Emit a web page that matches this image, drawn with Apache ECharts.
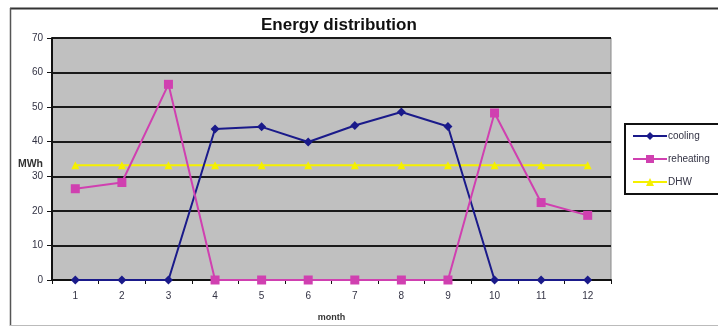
<!DOCTYPE html>
<html>
<head>
<meta charset="utf-8">
<style>
html,body{margin:0;padding:0;background:#fff;}
#c{width:718px;height:327px;}
</style>
<script src="https://cdn.jsdelivr.net/npm/echarts@6/dist/echarts.min.js"></script>
</head>
<body>
<div id="c"></div>
<script>
const months = ['1','2','3','4','5','6','7','8','9','10','11','12'];
const cooling = [0, 0, 0, 43.7, 44.3, 39.9, 44.7, 48.6, 44.4, 0, 0, 0];
const reheating = [26.4, 28.2, 56.6, 0, 0, 0, 0, 0, 0, 48.3, 22.4, 18.7];
const dhw = [33.2, 33.2, 33.2, 33.2, 33.2, 33.2, 33.2, 33.2, 33.2, 33.2, 33.2, 33.2];
const seriesNames = ['cooling', 'reheating', 'DHW'];

const chart = echarts.init(document.getElementById('c'), null, {renderer: 'canvas'});
const font = 'Liberation Sans, Arial, sans-serif';
chart.setOption({
  animation: false,
  textStyle: {fontFamily: font},
  graphic: [
    {type: 'line', shape: {x1: 10, y1: 8.5, x2: 718, y2: 8.5}, style: {stroke: '#333', lineWidth: 2}, z: 100},
    {type: 'line', shape: {x1: 10.5, y1: 8, x2: 10.5, y2: 326}, style: {stroke: '#555', lineWidth: 1.5}, z: 100},
    {type: 'line', shape: {x1: 10, y1: 325.5, x2: 718, y2: 325.5}, style: {stroke: '#bbb', lineWidth: 1}, z: 100}
  ],
  title: {
    text: 'Energy distribution',
    left: 261, top: 17, padding: 0,
    textStyle: {fontSize: 17, fontWeight: 'bold', color: '#111', fontFamily: font}
  },
  legend: {
    data: seriesNames,
    orient: 'vertical',
    left: 625, top: 124,
    backgroundColor: '#fff',
    borderColor: '#111', borderWidth: 2, borderRadius: 0,
    padding: [7, 40, 7, 7],
    itemWidth: 34, itemHeight: 10, itemGap: 13,
    textStyle: {fontSize: 10, color: '#334', fontFamily: font, padding: [0, 0, 0, -4]}
  },
  grid: {
    left: 52, right: 107, top: 38, bottom: 46,
    show: true, backgroundColor: '#c0c0c0', borderColor: '#8a8a8a', borderWidth: 1
  },
  xAxis: {
    type: 'category',
    data: months,
    boundaryGap: true,
    name: 'month',
    nameLocation: 'middle',
    nameGap: 33,
    nameTextStyle: {fontSize: 9, fontWeight: 'bold', color: '#333'},
    axisLine: {lineStyle: {color: '#111', width: 2}},
    axisTick: {show: true, length: 4, lineStyle: {color: '#111'}},
    axisLabel: {fontSize: 10, color: '#334', margin: 11},
    splitLine: {show: false}
  },
  yAxis: {
    type: 'value',
    min: 0, max: 70, interval: 10,
    name: 'MWh',
    nameLocation: 'middle',
    nameRotate: 0,
    nameGap: 9,
    nameMoveOverlap: false,
    nameTextStyle: {fontSize: 10.5, fontWeight: 'bold', color: '#333', align: 'right', verticalAlign: 'top'},
    axisLine: {show: true, lineStyle: {color: '#111', width: 2}},
    axisTick: {show: true, length: 5, lineStyle: {color: '#111'}},
    axisLabel: {fontSize: 10, color: '#334', margin: 9},
    splitLine: {show: true, lineStyle: {color: '#1a1a1a', width: 2}}
  },
  series: [
    {
      name: 'cooling', type: 'line', data: cooling,
      symbol: 'diamond', symbolSize: 9,
      lineStyle: {color: '#1a1a8a', width: 2},
      itemStyle: {color: '#1a1a8a'},
      z: 3
    },
    {
      name: 'reheating', type: 'line', data: reheating,
      symbol: 'rect', symbolSize: 9,
      lineStyle: {color: '#d040b0', width: 2},
      itemStyle: {color: '#d040b0'},
      z: 4
    },
    {
      name: 'DHW', type: 'line', data: dhw,
      symbol: 'triangle', symbolSize: 8,
      lineStyle: {color: '#f5f000', width: 2},
      itemStyle: {color: '#f5f000'},
      z: 2
    }
  ]
});
</script>
</body>
</html>
